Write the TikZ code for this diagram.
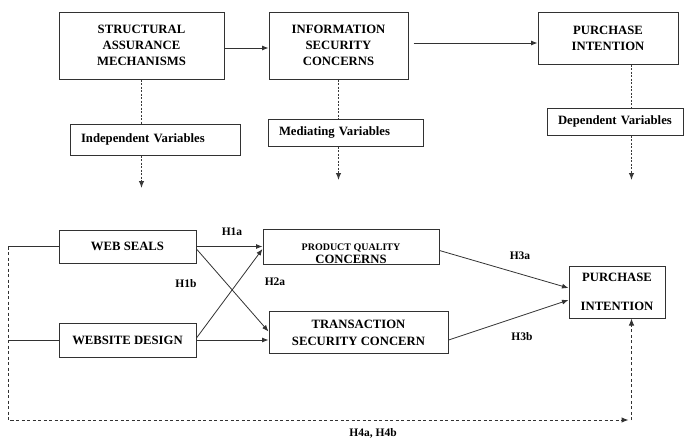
\documentclass[tikz,border=0pt]{standalone}
\usepackage{fontspec}
\setmainfont{Liberation Serif}
\usetikzlibrary{positioning,arrows.meta,calc}
\definecolor{boxline}{RGB}{50,50,50}
\begin{document}
\begin{tikzpicture}[x=1pt, y=-1pt,
  font=\fontsize{12.7}{16}\selectfont\bfseries,
  bx/.style={draw=boxline, line width=1pt, align=center, inner sep=2pt},
  var/.style={draw=boxline, line width=1pt, align=left, inner xsep=11pt, inner ysep=0pt},
  ar/.style={-{Latex[length=6.5pt,width=5pt]}, line width=0.8pt, boxline},
  ln/.style={line width=0.8pt, boxline},
  dots/.style={line width=1.1pt, gray!45!black, dash pattern=on 2pt off 1.5pt},
  dsh/.style={line width=1pt, boxline, dash pattern=on 3pt off 2.5pt},
  tip/.style={-{Latex[length=7pt,width=5.5pt]}},
  hyp/.style={font=\fontsize{11.5}{12}\selectfont\bfseries, inner sep=1pt},
]
\useasboundingbox (0,0) rectangle (686,442);
\def\xa{141.5} \def\xb{338.5} \def\xc{608} \def\xd{631.5}
% ---- top row: constructs ----
\node[bx, minimum width=165pt, minimum height=67pt] (sam) at (\xa,45.5) {STRUCTURAL\\ASSURANCE\\MECHANISMS};
\node[bx, minimum width=139pt, minimum height=67pt] (isc) at (\xb,45.5) {INFORMATION\\SECURITY\\CONCERNS};
\node[bx, minimum width=140pt, minimum height=52pt] (pit) at (\xc,38) {PURCHASE\\INTENTION};
\draw[ar] ([yshift=-2.5pt]sam.east) -- ([yshift=-2.5pt]isc.west);
\draw[ar] ([xshift=5pt,yshift=2.5pt]isc.east) -- ([yshift=-5pt]pit.west);
% ---- variable types ----
\node[var, text width=148pt, minimum height=31pt] (ind) at (155,139.5) {Independent Variables};
\node[var, text width=133pt, minimum height=27pt] (med) at (345.5,132.5) {Mediating Variables};
\node[var, text width=114pt, minimum height=27pt] (dep) at (615,121.5) {Dependent Variables};
\coordinate (da) at (\xa,188); \coordinate (db) at (\xb,180); \coordinate (dc) at (\xd,180);
\draw[dots] (sam.south) -- (sam.south |- ind.north);
\draw[dots, tip] (sam.south |- ind.south) -- (da);
\draw[dots] (isc.south) -- (isc.south |- med.north);
\draw[dots, tip] (isc.south |- med.south) -- (db);
\draw[dots] (dc |- pit.south) -- (dc |- dep.north);
\draw[dots, tip] (dc |- dep.south) -- (dc);
% ---- research model ----
\node[bx, minimum width=137pt, minimum height=33pt] (ws) at (127.5,246.5) {WEB SEALS};
\node[bx, minimum width=137pt, minimum height=34pt] (wd) at (127.5,340) {WEBSITE DESIGN};
\node[bx, minimum width=176pt, minimum height=35pt, inner sep=0pt] (pqc) at (351,247) {\rule{0pt}{20pt}{\fontsize{10}{12}\selectfont PRODUCT QUALITY}\\[-2.5pt]CONCERNS};
\node[bx, minimum width=179pt, minimum height=42pt] (tsc) at (358.5,332.5) {TRANSACTION\\[1pt]SECURITY CONCERN};
\node[bx, minimum width=96pt, minimum height=52pt] (pib) at (617,292) {PURCHASE\\[13pt]INTENTION};
% hypotheses
\draw[ar] (ws.east) -- (ws.east -| pqc.west);
\draw[ar] ([yshift=-2.5pt]ws.east) -- ([yshift=1pt]tsc.west);
\draw[ar] ([yshift=2pt]wd.east) -- ([yshift=-2pt]pqc.west);
\draw[ar] (wd.east) -- (wd.east -| tsc.west);
\draw[ar] ([yshift=-3.5pt]pqc.east) -- ([yshift=4pt]pib.west);
\draw[ar] ([yshift=-7.5pt]tsc.east) -- ([yshift=-8pt]pib.west);
\node[hyp] (h1a) at (232,232) {H1a};
\node[hyp] (h1b) at (186,284) {H1b};
\node[hyp] (h2a) at (275,282) {H2a};
\node[hyp] (h3a) at (520,256) {H3a};
\node[hyp] (h3b) at (522,337) {H3b};
% direct effect
\coordinate (lt) at (8,246.5); \coordinate (lb) at (8,420); \coordinate (rb) at (\xd,420);
\draw[ln] (ws.west) -- (lt);
\draw[ln] (wd.west) -- (lt |- wd.west);
\draw[dsh, tip] (lt) -- (lb) -- ([xshift=-3pt]rb);
\draw[dsh, tip] (rb) -- (rb |- pib.south);
\node[hyp] (h4) at (373,433) {H4a, H4b};
\end{tikzpicture}
\end{document}
